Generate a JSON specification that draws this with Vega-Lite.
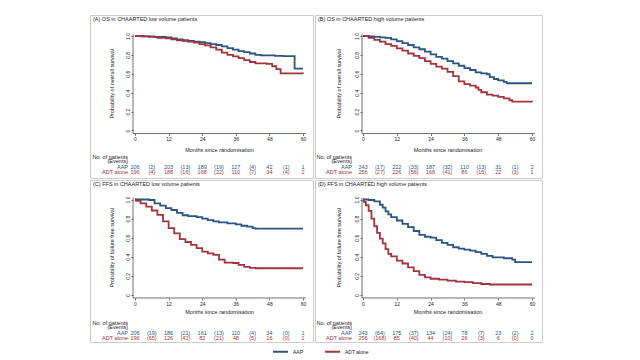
{
"$schema": "https://vega.github.io/schema/vega-lite/v6.json",
"padding": {"left": 89, "top": 14, "right": 0, "bottom": 0},
"background": "white",
"columns": 2,
"spacing": 0,
"align": "each",
"resolve": {"scale": {"x": "independent", "y": "independent", "color": "shared"}},
"datasets": {
"curves": [
{"panel":"A","arm":"AAP","t":0,"s":1},{"panel":"A","arm":"AAP","t":3,"s":0.995},{"panel":"A","arm":"AAP","t":7,"s":0.99},{"panel":"A","arm":"AAP","t":11,"s":0.985},{"panel":"A","arm":"AAP","t":13,"s":0.975},{"panel":"A","arm":"AAP","t":15,"s":0.965},{"panel":"A","arm":"AAP","t":17,"s":0.955},{"panel":"A","arm":"AAP","t":19,"s":0.948},{"panel":"A","arm":"AAP","t":21,"s":0.94},{"panel":"A","arm":"AAP","t":23,"s":0.935},{"panel":"A","arm":"AAP","t":25,"s":0.925},{"panel":"A","arm":"AAP","t":27,"s":0.915},{"panel":"A","arm":"AAP","t":29,"s":0.905},{"panel":"A","arm":"AAP","t":31,"s":0.89},{"panel":"A","arm":"AAP","t":33,"s":0.872},{"panel":"A","arm":"AAP","t":35,"s":0.855},{"panel":"A","arm":"AAP","t":37,"s":0.84},{"panel":"A","arm":"AAP","t":39,"s":0.83},{"panel":"A","arm":"AAP","t":41,"s":0.815},{"panel":"A","arm":"AAP","t":43,"s":0.8},{"panel":"A","arm":"AAP","t":45,"s":0.795},{"panel":"A","arm":"AAP","t":50,"s":0.79},{"panel":"A","arm":"AAP","t":53,"s":0.787},{"panel":"A","arm":"AAP","t":57,"s":0.655},{"panel":"A","arm":"AAP","t":60,"s":0.655},
{"panel":"A","arm":"ADT alone","t":0,"s":1},{"panel":"A","arm":"ADT alone","t":2,"s":0.995},{"panel":"A","arm":"ADT alone","t":5,"s":0.99},{"panel":"A","arm":"ADT alone","t":8,"s":0.98},{"panel":"A","arm":"ADT alone","t":11,"s":0.975},{"panel":"A","arm":"ADT alone","t":13,"s":0.965},{"panel":"A","arm":"ADT alone","t":15,"s":0.955},{"panel":"A","arm":"ADT alone","t":17,"s":0.948},{"panel":"A","arm":"ADT alone","t":19,"s":0.94},{"panel":"A","arm":"ADT alone","t":21,"s":0.93},{"panel":"A","arm":"ADT alone","t":23,"s":0.915},{"panel":"A","arm":"ADT alone","t":25,"s":0.9},{"panel":"A","arm":"ADT alone","t":27,"s":0.88},{"panel":"A","arm":"ADT alone","t":29,"s":0.855},{"panel":"A","arm":"ADT alone","t":31,"s":0.825},{"panel":"A","arm":"ADT alone","t":33,"s":0.8},{"panel":"A","arm":"ADT alone","t":35,"s":0.785},{"panel":"A","arm":"ADT alone","t":37,"s":0.765},{"panel":"A","arm":"ADT alone","t":39,"s":0.745},{"panel":"A","arm":"ADT alone","t":41,"s":0.725},{"panel":"A","arm":"ADT alone","t":43,"s":0.71},{"panel":"A","arm":"ADT alone","t":47,"s":0.705},{"panel":"A","arm":"ADT alone","t":49,"s":0.68},{"panel":"A","arm":"ADT alone","t":50.5,"s":0.65},{"panel":"A","arm":"ADT alone","t":52,"s":0.605},{"panel":"A","arm":"ADT alone","t":60,"s":0.6},
{"panel":"B","arm":"AAP","t":0,"s":1},{"panel":"B","arm":"AAP","t":2,"s":0.995},{"panel":"B","arm":"AAP","t":4,"s":0.99},{"panel":"B","arm":"AAP","t":6,"s":0.985},{"panel":"B","arm":"AAP","t":8,"s":0.98},{"panel":"B","arm":"AAP","t":10,"s":0.965},{"panel":"B","arm":"AAP","t":12,"s":0.945},{"panel":"B","arm":"AAP","t":14,"s":0.925},{"panel":"B","arm":"AAP","t":16,"s":0.905},{"panel":"B","arm":"AAP","t":18,"s":0.88},{"panel":"B","arm":"AAP","t":20,"s":0.86},{"panel":"B","arm":"AAP","t":22,"s":0.835},{"panel":"B","arm":"AAP","t":24,"s":0.805},{"panel":"B","arm":"AAP","t":26,"s":0.78},{"panel":"B","arm":"AAP","t":28,"s":0.76},{"panel":"B","arm":"AAP","t":30,"s":0.735},{"panel":"B","arm":"AAP","t":32,"s":0.71},{"panel":"B","arm":"AAP","t":34,"s":0.685},{"panel":"B","arm":"AAP","t":36,"s":0.66},{"panel":"B","arm":"AAP","t":38,"s":0.64},{"panel":"B","arm":"AAP","t":40,"s":0.615},{"panel":"B","arm":"AAP","t":42,"s":0.605},{"panel":"B","arm":"AAP","t":44,"s":0.595},{"panel":"B","arm":"AAP","t":45,"s":0.565},{"panel":"B","arm":"AAP","t":46.5,"s":0.545},{"panel":"B","arm":"AAP","t":48,"s":0.53},{"panel":"B","arm":"AAP","t":50,"s":0.515},{"panel":"B","arm":"AAP","t":51,"s":0.5},{"panel":"B","arm":"AAP","t":60,"s":0.5},
{"panel":"B","arm":"ADT alone","t":0,"s":1},{"panel":"B","arm":"ADT alone","t":2,"s":0.98},{"panel":"B","arm":"ADT alone","t":4,"s":0.96},{"panel":"B","arm":"ADT alone","t":6,"s":0.94},{"panel":"B","arm":"ADT alone","t":8,"s":0.915},{"panel":"B","arm":"ADT alone","t":10,"s":0.895},{"panel":"B","arm":"ADT alone","t":12,"s":0.87},{"panel":"B","arm":"ADT alone","t":14,"s":0.845},{"panel":"B","arm":"ADT alone","t":16,"s":0.815},{"panel":"B","arm":"ADT alone","t":18,"s":0.79},{"panel":"B","arm":"ADT alone","t":20,"s":0.765},{"panel":"B","arm":"ADT alone","t":22,"s":0.735},{"panel":"B","arm":"ADT alone","t":24,"s":0.705},{"panel":"B","arm":"ADT alone","t":26,"s":0.675},{"panel":"B","arm":"ADT alone","t":28,"s":0.655},{"panel":"B","arm":"ADT alone","t":30,"s":0.62},{"panel":"B","arm":"ADT alone","t":32,"s":0.575},{"panel":"B","arm":"ADT alone","t":34,"s":0.52},{"panel":"B","arm":"ADT alone","t":36,"s":0.49},{"panel":"B","arm":"ADT alone","t":38,"s":0.475},{"panel":"B","arm":"ADT alone","t":40,"s":0.455},{"panel":"B","arm":"ADT alone","t":41,"s":0.43},{"panel":"B","arm":"ADT alone","t":42,"s":0.405},{"panel":"B","arm":"ADT alone","t":44,"s":0.38},{"panel":"B","arm":"ADT alone","t":46,"s":0.37},{"panel":"B","arm":"ADT alone","t":48,"s":0.355},{"panel":"B","arm":"ADT alone","t":50,"s":0.34},{"panel":"B","arm":"ADT alone","t":52,"s":0.32},{"panel":"B","arm":"ADT alone","t":53,"s":0.305},{"panel":"B","arm":"ADT alone","t":60,"s":0.3},
{"panel":"C","arm":"AAP","t":0,"s":1},{"panel":"C","arm":"AAP","t":5,"s":0.995},{"panel":"C","arm":"AAP","t":7,"s":0.96},{"panel":"C","arm":"AAP","t":9,"s":0.935},{"panel":"C","arm":"AAP","t":11,"s":0.91},{"panel":"C","arm":"AAP","t":13,"s":0.89},{"panel":"C","arm":"AAP","t":15,"s":0.86},{"panel":"C","arm":"AAP","t":17,"s":0.835},{"panel":"C","arm":"AAP","t":19,"s":0.825},{"panel":"C","arm":"AAP","t":22,"s":0.815},{"panel":"C","arm":"AAP","t":24,"s":0.8},{"panel":"C","arm":"AAP","t":26,"s":0.785},{"panel":"C","arm":"AAP","t":28,"s":0.77},{"panel":"C","arm":"AAP","t":30,"s":0.76},{"panel":"C","arm":"AAP","t":33,"s":0.75},{"panel":"C","arm":"AAP","t":36,"s":0.74},{"panel":"C","arm":"AAP","t":38,"s":0.725},{"panel":"C","arm":"AAP","t":40,"s":0.715},{"panel":"C","arm":"AAP","t":42,"s":0.7},{"panel":"C","arm":"AAP","t":43,"s":0.695},{"panel":"C","arm":"AAP","t":60,"s":0.695},
{"panel":"C","arm":"ADT alone","t":0,"s":1},{"panel":"C","arm":"ADT alone","t":0.3,"s":0.985},{"panel":"C","arm":"ADT alone","t":2,"s":0.96},{"panel":"C","arm":"ADT alone","t":4,"s":0.925},{"panel":"C","arm":"ADT alone","t":6,"s":0.885},{"panel":"C","arm":"ADT alone","t":8,"s":0.84},{"panel":"C","arm":"ADT alone","t":10,"s":0.77},{"panel":"C","arm":"ADT alone","t":12,"s":0.7},{"panel":"C","arm":"ADT alone","t":14,"s":0.645},{"panel":"C","arm":"ADT alone","t":16,"s":0.585},{"panel":"C","arm":"ADT alone","t":18,"s":0.555},{"panel":"C","arm":"ADT alone","t":20,"s":0.525},{"panel":"C","arm":"ADT alone","t":22,"s":0.49},{"panel":"C","arm":"ADT alone","t":24,"s":0.455},{"panel":"C","arm":"ADT alone","t":26,"s":0.435},{"panel":"C","arm":"ADT alone","t":28,"s":0.42},{"panel":"C","arm":"ADT alone","t":30,"s":0.37},{"panel":"C","arm":"ADT alone","t":32,"s":0.34},{"panel":"C","arm":"ADT alone","t":35,"s":0.335},{"panel":"C","arm":"ADT alone","t":37,"s":0.315},{"panel":"C","arm":"ADT alone","t":39,"s":0.295},{"panel":"C","arm":"ADT alone","t":41,"s":0.285},{"panel":"C","arm":"ADT alone","t":43,"s":0.28},{"panel":"C","arm":"ADT alone","t":60,"s":0.28},
{"panel":"D","arm":"AAP","t":0,"s":1},{"panel":"D","arm":"AAP","t":2,"s":0.995},{"panel":"D","arm":"AAP","t":4,"s":0.98},{"panel":"D","arm":"AAP","t":6,"s":0.945},{"panel":"D","arm":"AAP","t":7,"s":0.915},{"panel":"D","arm":"AAP","t":8,"s":0.875},{"panel":"D","arm":"AAP","t":9,"s":0.845},{"panel":"D","arm":"AAP","t":10,"s":0.815},{"panel":"D","arm":"AAP","t":12,"s":0.78},{"panel":"D","arm":"AAP","t":14,"s":0.745},{"panel":"D","arm":"AAP","t":16,"s":0.71},{"panel":"D","arm":"AAP","t":18,"s":0.67},{"panel":"D","arm":"AAP","t":20,"s":0.63},{"panel":"D","arm":"AAP","t":22,"s":0.61},{"panel":"D","arm":"AAP","t":24,"s":0.6},{"panel":"D","arm":"AAP","t":26,"s":0.575},{"panel":"D","arm":"AAP","t":28,"s":0.545},{"panel":"D","arm":"AAP","t":30,"s":0.525},{"panel":"D","arm":"AAP","t":32,"s":0.5},{"panel":"D","arm":"AAP","t":34,"s":0.485},{"panel":"D","arm":"AAP","t":36,"s":0.475},{"panel":"D","arm":"AAP","t":38,"s":0.465},{"panel":"D","arm":"AAP","t":40,"s":0.45},{"panel":"D","arm":"AAP","t":42,"s":0.43},{"panel":"D","arm":"AAP","t":44,"s":0.41},{"panel":"D","arm":"AAP","t":46,"s":0.395},{"panel":"D","arm":"AAP","t":50,"s":0.385},{"panel":"D","arm":"AAP","t":53,"s":0.37},{"panel":"D","arm":"AAP","t":54,"s":0.345},{"panel":"D","arm":"AAP","t":60,"s":0.345},
{"panel":"D","arm":"ADT alone","t":0,"s":1},{"panel":"D","arm":"ADT alone","t":0.3,"s":0.975},{"panel":"D","arm":"ADT alone","t":1,"s":0.94},{"panel":"D","arm":"ADT alone","t":2,"s":0.88},{"panel":"D","arm":"ADT alone","t":3,"s":0.8},{"panel":"D","arm":"ADT alone","t":4,"s":0.72},{"panel":"D","arm":"ADT alone","t":5,"s":0.65},{"panel":"D","arm":"ADT alone","t":6,"s":0.59},{"panel":"D","arm":"ADT alone","t":7,"s":0.54},{"panel":"D","arm":"ADT alone","t":8,"s":0.48},{"panel":"D","arm":"ADT alone","t":9,"s":0.43},{"panel":"D","arm":"ADT alone","t":10,"s":0.405},{"panel":"D","arm":"ADT alone","t":12,"s":0.36},{"panel":"D","arm":"ADT alone","t":14,"s":0.33},{"panel":"D","arm":"ADT alone","t":16,"s":0.29},{"panel":"D","arm":"ADT alone","t":18,"s":0.25},{"panel":"D","arm":"ADT alone","t":20,"s":0.21},{"panel":"D","arm":"ADT alone","t":22,"s":0.185},{"panel":"D","arm":"ADT alone","t":24,"s":0.17},{"panel":"D","arm":"ADT alone","t":27,"s":0.16},{"panel":"D","arm":"ADT alone","t":30,"s":0.15},{"panel":"D","arm":"ADT alone","t":33,"s":0.14},{"panel":"D","arm":"ADT alone","t":36,"s":0.135},{"panel":"D","arm":"ADT alone","t":39,"s":0.125},{"panel":"D","arm":"ADT alone","t":42,"s":0.115},{"panel":"D","arm":"ADT alone","t":45,"s":0.11},{"panel":"D","arm":"ADT alone","t":60,"s":0.11}
],
"risk": [
{"panel":"A","arm":"AAP","t":0,"label":"206"},{"panel":"A","arm":"AAP","t":6,"label":"(2)"},{"panel":"A","arm":"AAP","t":12,"label":"203"},{"panel":"A","arm":"AAP","t":18,"label":"(13)"},{"panel":"A","arm":"AAP","t":24,"label":"189"},{"panel":"A","arm":"AAP","t":30,"label":"(19)"},{"panel":"A","arm":"AAP","t":36,"label":"127"},{"panel":"A","arm":"AAP","t":42,"label":"(4)"},{"panel":"A","arm":"AAP","t":48,"label":"42"},{"panel":"A","arm":"AAP","t":54,"label":"(1)"},{"panel":"A","arm":"AAP","t":60,"label":"1"},
{"panel":"A","arm":"ADT alone","t":0,"label":"196"},{"panel":"A","arm":"ADT alone","t":6,"label":"(4)"},{"panel":"A","arm":"ADT alone","t":12,"label":"188"},{"panel":"A","arm":"ADT alone","t":18,"label":"(16)"},{"panel":"A","arm":"ADT alone","t":24,"label":"168"},{"panel":"A","arm":"ADT alone","t":30,"label":"(22)"},{"panel":"A","arm":"ADT alone","t":36,"label":"110"},{"panel":"A","arm":"ADT alone","t":42,"label":"(7)"},{"panel":"A","arm":"ADT alone","t":48,"label":"34"},{"panel":"A","arm":"ADT alone","t":54,"label":"(4)"},{"panel":"A","arm":"ADT alone","t":60,"label":"2"},
{"panel":"B","arm":"AAP","t":0,"label":"243"},{"panel":"B","arm":"AAP","t":6,"label":"(17)"},{"panel":"B","arm":"AAP","t":12,"label":"222"},{"panel":"B","arm":"AAP","t":18,"label":"(33)"},{"panel":"B","arm":"AAP","t":24,"label":"187"},{"panel":"B","arm":"AAP","t":30,"label":"(32)"},{"panel":"B","arm":"AAP","t":36,"label":"110"},{"panel":"B","arm":"AAP","t":42,"label":"(13)"},{"panel":"B","arm":"AAP","t":48,"label":"31"},{"panel":"B","arm":"AAP","t":54,"label":"(1)"},{"panel":"B","arm":"AAP","t":60,"label":"2"},
{"panel":"B","arm":"ADT alone","t":0,"label":"256"},{"panel":"B","arm":"ADT alone","t":6,"label":"(27)"},{"panel":"B","arm":"ADT alone","t":12,"label":"226"},{"panel":"B","arm":"ADT alone","t":18,"label":"(56)"},{"panel":"B","arm":"ADT alone","t":24,"label":"166"},{"panel":"B","arm":"ADT alone","t":30,"label":"(41)"},{"panel":"B","arm":"ADT alone","t":36,"label":"86"},{"panel":"B","arm":"ADT alone","t":42,"label":"(15)"},{"panel":"B","arm":"ADT alone","t":48,"label":"22"},{"panel":"B","arm":"ADT alone","t":54,"label":"(3)"},{"panel":"B","arm":"ADT alone","t":60,"label":"1"},
{"panel":"C","arm":"AAP","t":0,"label":"206"},{"panel":"C","arm":"AAP","t":6,"label":"(19)"},{"panel":"C","arm":"AAP","t":12,"label":"186"},{"panel":"C","arm":"AAP","t":18,"label":"(21)"},{"panel":"C","arm":"AAP","t":24,"label":"161"},{"panel":"C","arm":"AAP","t":30,"label":"(13)"},{"panel":"C","arm":"AAP","t":36,"label":"110"},{"panel":"C","arm":"AAP","t":42,"label":"(4)"},{"panel":"C","arm":"AAP","t":48,"label":"34"},{"panel":"C","arm":"AAP","t":54,"label":"(0)"},{"panel":"C","arm":"AAP","t":60,"label":"1"},
{"panel":"C","arm":"ADT alone","t":0,"label":"196"},{"panel":"C","arm":"ADT alone","t":6,"label":"(65)"},{"panel":"C","arm":"ADT alone","t":12,"label":"126"},{"panel":"C","arm":"ADT alone","t":18,"label":"(42)"},{"panel":"C","arm":"ADT alone","t":24,"label":"82"},{"panel":"C","arm":"ADT alone","t":30,"label":"(21)"},{"panel":"C","arm":"ADT alone","t":36,"label":"48"},{"panel":"C","arm":"ADT alone","t":42,"label":"(5)"},{"panel":"C","arm":"ADT alone","t":48,"label":"16"},{"panel":"C","arm":"ADT alone","t":54,"label":"(0)"},{"panel":"C","arm":"ADT alone","t":60,"label":"1"},
{"panel":"D","arm":"AAP","t":0,"label":"243"},{"panel":"D","arm":"AAP","t":6,"label":"(64)"},{"panel":"D","arm":"AAP","t":12,"label":"175"},{"panel":"D","arm":"AAP","t":18,"label":"(37)"},{"panel":"D","arm":"AAP","t":24,"label":"134"},{"panel":"D","arm":"AAP","t":30,"label":"(24)"},{"panel":"D","arm":"AAP","t":36,"label":"78"},{"panel":"D","arm":"AAP","t":42,"label":"(7)"},{"panel":"D","arm":"AAP","t":48,"label":"23"},{"panel":"D","arm":"AAP","t":54,"label":"(2)"},{"panel":"D","arm":"AAP","t":60,"label":"2"},
{"panel":"D","arm":"ADT alone","t":0,"label":"256"},{"panel":"D","arm":"ADT alone","t":6,"label":"(168)"},{"panel":"D","arm":"ADT alone","t":12,"label":"85"},{"panel":"D","arm":"ADT alone","t":18,"label":"(40)"},{"panel":"D","arm":"ADT alone","t":24,"label":"44"},{"panel":"D","arm":"ADT alone","t":30,"label":"(10)"},{"panel":"D","arm":"ADT alone","t":36,"label":"26"},{"panel":"D","arm":"ADT alone","t":42,"label":"(3)"},{"panel":"D","arm":"ADT alone","t":48,"label":"6"},{"panel":"D","arm":"ADT alone","t":54,"label":"(0)"},{"panel":"D","arm":"ADT alone","t":60,"label":"0"}
]
},
"concat": [
{
"width": 223, "height": 163,
"title": {"text": "(A) OS in CHAARTED low volume patients"},
"layer": [
{"data": {"name": "curves"}, "transform": [{"filter": "datum.panel == 'A'"}],
 "mark": {"type": "line", "interpolate": "step-after", "strokeWidth": 1.8},
 "encoding": {
  "x": {"field": "t", "type": "quantitative", "scale": {"domain": [-16.071, 63.571], "nice": false, "zero": false}, "axis": {"values": [0,12,24,36,48,60], "tickCount": 20, "offset": -44.5, "title": "Months since randomisation", "titleX": 129, "titleY": 15.5}},
  "y": {"field": "s", "type": "quantitative", "scale": {"domain": [-0.50265, 1.22222], "nice": false, "zero": false}, "axis": {"values": [0,0.2,0.4,0.6,0.8,1], "tickCount": 20, "offset": -43, "title": "Probability of overall survival", "titleX": -22, "titleY": 68.25, "labelExpr": "datum.value == 0 ? '0' : format(datum.value, '.1f')"}},
  "color": {"field": "arm", "type": "nominal", "title": null, "scale": {"domain": ["AAP", "ADT alone"], "range": ["#2b5584", "#a3343d"]}}
 }},
{"data": {"values": [{}]}, "mark": {"type": "rule", "color": "#333333", "strokeWidth": 0.7}, "encoding": {"x": {"datum": -0.714}, "y": {"datum": -0.032}, "y2": {"datum": 1.02}}},
{"data": {"values": [{}]}, "mark": {"type": "rule", "color": "#333333", "strokeWidth": 0.7}, "encoding": {"x": {"datum": -0.714}, "x2": {"datum": 61}, "y": {"datum": -0.032}}},
{"data": {"values": [{}]}, "mark": {"type": "text", "text": ["No. of patients", "(Events)"], "align": "right", "baseline": "middle", "lineHeight": 4.5, "color": "#222222"}, "encoding": {"x": {"datum": -2.5}, "y": {"datum": -0.2804}}},
{"data": {"values": [{}]}, "mark": {"type": "text", "text": "AAP", "align": "right", "baseline": "middle", "color": "#2b5584"}, "encoding": {"x": {"datum": -2.5}, "y": {"datum": -0.381}}},
{"data": {"values": [{}]}, "mark": {"type": "text", "text": "ADT alone", "align": "right", "baseline": "middle", "color": "#a3343d"}, "encoding": {"x": {"datum": -2.5}, "y": {"datum": -0.434}}},
{"data": {"name": "risk"}, "transform": [{"filter": "datum.panel == 'A' && datum.arm == 'AAP'"}], "mark": {"type": "text", "baseline": "middle", "color": "#2b5584"}, "encoding": {"x": {"field": "t", "type": "quantitative"}, "y": {"datum": -0.381}, "text": {"field": "label"}}},
{"data": {"name": "risk"}, "transform": [{"filter": "datum.panel == 'A' && datum.arm == 'ADT alone'"}], "mark": {"type": "text", "baseline": "middle", "color": "#a3343d"}, "encoding": {"x": {"field": "t", "type": "quantitative"}, "y": {"datum": -0.434}, "text": {"field": "label"}}}
]
},
{
"width": 227, "height": 163,
"title": {"text": "(B) OS in CHAARTED high volume patients"},
"layer": [
{"data": {"name": "curves"}, "transform": [{"filter": "datum.panel == 'B'"}],
 "mark": {"type": "line", "interpolate": "step-after", "strokeWidth": 1.8},
 "encoding": {
  "x": {"field": "t", "type": "quantitative", "scale": {"domain": [-17.041, 63.55], "nice": false, "zero": false}, "axis": {"values": [0,12,24,36,48,60], "tickCount": 20, "offset": -44.5, "title": "Months since randomisation", "titleX": 132.5, "titleY": 15.5}},
  "y": {"field": "s", "type": "quantitative", "scale": {"domain": [-0.50265, 1.22222], "nice": false, "zero": false}, "axis": {"values": [0,0.2,0.4,0.6,0.8,1], "tickCount": 20, "offset": -47, "title": "Probability of overall survival", "titleX": -24, "titleY": 68.25, "labelExpr": "datum.value == 0 ? '0' : format(datum.value, '.1f')"}},
  "color": {"field": "arm", "type": "nominal", "title": null, "scale": {"domain": ["AAP", "ADT alone"], "range": ["#2b5584", "#a3343d"]}}
 }},
{"data": {"values": [{}]}, "mark": {"type": "rule", "color": "#333333", "strokeWidth": 0.7}, "encoding": {"x": {"datum": -0.355}, "y": {"datum": -0.032}, "y2": {"datum": 1.02}}},
{"data": {"values": [{}]}, "mark": {"type": "rule", "color": "#333333", "strokeWidth": 0.7}, "encoding": {"x": {"datum": -0.355}, "x2": {"datum": 61}, "y": {"datum": -0.032}}},
{"data": {"values": [{}]}, "mark": {"type": "text", "text": ["No. of patients", "(Events)"], "align": "right", "baseline": "middle", "lineHeight": 4.5, "color": "#222222"}, "encoding": {"x": {"datum": -3.9}, "y": {"datum": -0.2804}}},
{"data": {"values": [{}]}, "mark": {"type": "text", "text": "AAP", "align": "right", "baseline": "middle", "color": "#2b5584"}, "encoding": {"x": {"datum": -3.9}, "y": {"datum": -0.381}}},
{"data": {"values": [{}]}, "mark": {"type": "text", "text": "ADT alone", "align": "right", "baseline": "middle", "color": "#a3343d"}, "encoding": {"x": {"datum": -3.9}, "y": {"datum": -0.434}}},
{"data": {"name": "risk"}, "transform": [{"filter": "datum.panel == 'B' && datum.arm == 'AAP'"}], "mark": {"type": "text", "baseline": "middle", "color": "#2b5584"}, "encoding": {"x": {"field": "t", "type": "quantitative"}, "y": {"datum": -0.381}, "text": {"field": "label"}}},
{"data": {"name": "risk"}, "transform": [{"filter": "datum.panel == 'B' && datum.arm == 'ADT alone'"}], "mark": {"type": "text", "baseline": "middle", "color": "#a3343d"}, "encoding": {"x": {"field": "t", "type": "quantitative"}, "y": {"datum": -0.434}, "text": {"field": "label"}}}
]
},
{
"width": 223, "height": 162,
"title": {"text": "(C) FFS in CHAARTED low volume patients"},
"layer": [
{"data": {"name": "curves"}, "transform": [{"filter": "datum.panel == 'C'"}],
 "mark": {"type": "line", "interpolate": "step-after", "strokeWidth": 1.8},
 "encoding": {
  "x": {"field": "t", "type": "quantitative", "scale": {"domain": [-16.071, 63.571], "nice": false, "zero": false}, "axis": {"values": [0,12,24,36,48,60], "tickCount": 20, "offset": -44, "title": "Months since randomisation", "titleX": 129, "titleY": 13.5}},
  "y": {"field": "s", "type": "quantitative", "scale": {"domain": [-0.49215, 1.20419], "nice": false, "zero": false}, "axis": {"values": [0,0.2,0.4,0.6,0.8,1], "tickCount": 20, "offset": -43, "title": "Probability of failure free survival", "titleX": -22, "titleY": 67.25, "labelExpr": "datum.value == 0 ? '0' : format(datum.value, '.1f')"}},
  "color": {"field": "arm", "type": "nominal", "title": null, "scale": {"domain": ["AAP", "ADT alone"], "range": ["#2b5584", "#a3343d"]}}
 }},
{"data": {"values": [{}]}, "mark": {"type": "rule", "color": "#333333", "strokeWidth": 0.7}, "encoding": {"x": {"datum": -0.714}, "y": {"datum": -0.031}, "y2": {"datum": 1.02}}},
{"data": {"values": [{}]}, "mark": {"type": "rule", "color": "#333333", "strokeWidth": 0.7}, "encoding": {"x": {"datum": -0.714}, "x2": {"datum": 61}, "y": {"datum": -0.031}}},
{"data": {"values": [{}]}, "mark": {"type": "text", "text": ["No. of patients", "(Events)"], "align": "right", "baseline": "middle", "lineHeight": 4.5, "color": "#222222"}, "encoding": {"x": {"datum": -2.5}, "y": {"datum": -0.293}}},
{"data": {"values": [{}]}, "mark": {"type": "text", "text": "AAP", "align": "right", "baseline": "middle", "color": "#2b5584"}, "encoding": {"x": {"datum": -2.5}, "y": {"datum": -0.398}}},
{"data": {"values": [{}]}, "mark": {"type": "text", "text": "ADT alone", "align": "right", "baseline": "middle", "color": "#a3343d"}, "encoding": {"x": {"datum": -2.5}, "y": {"datum": -0.455}}},
{"data": {"name": "risk"}, "transform": [{"filter": "datum.panel == 'C' && datum.arm == 'AAP'"}], "mark": {"type": "text", "baseline": "middle", "color": "#2b5584"}, "encoding": {"x": {"field": "t", "type": "quantitative"}, "y": {"datum": -0.398}, "text": {"field": "label"}}},
{"data": {"name": "risk"}, "transform": [{"filter": "datum.panel == 'C' && datum.arm == 'ADT alone'"}], "mark": {"type": "text", "baseline": "middle", "color": "#a3343d"}, "encoding": {"x": {"field": "t", "type": "quantitative"}, "y": {"datum": -0.455}, "text": {"field": "label"}}}
]
},
{
"width": 227, "height": 162,
"title": {"text": "(D) FFS in CHAARTED high volume patients"},
"layer": [
{"data": {"name": "curves"}, "transform": [{"filter": "datum.panel == 'D'"}],
 "mark": {"type": "line", "interpolate": "step-after", "strokeWidth": 1.8},
 "encoding": {
  "x": {"field": "t", "type": "quantitative", "scale": {"domain": [-17.041, 63.55], "nice": false, "zero": false}, "axis": {"values": [0,12,24,36,48,60], "tickCount": 20, "offset": -44, "title": "Months since randomisation", "titleX": 132.5, "titleY": 13.5}},
  "y": {"field": "s", "type": "quantitative", "scale": {"domain": [-0.49215, 1.20419], "nice": false, "zero": false}, "axis": {"values": [0,0.2,0.4,0.6,0.8,1], "tickCount": 20, "offset": -47, "title": "Probability of failure free survival", "titleX": -24, "titleY": 67.25, "labelExpr": "datum.value == 0 ? '0' : format(datum.value, '.1f')"}},
  "color": {"field": "arm", "type": "nominal", "title": null, "scale": {"domain": ["AAP", "ADT alone"], "range": ["#2b5584", "#a3343d"]}}
 }},
{"data": {"values": [{}]}, "mark": {"type": "rule", "color": "#333333", "strokeWidth": 0.7}, "encoding": {"x": {"datum": -0.355}, "y": {"datum": -0.031}, "y2": {"datum": 1.02}}},
{"data": {"values": [{}]}, "mark": {"type": "rule", "color": "#333333", "strokeWidth": 0.7}, "encoding": {"x": {"datum": -0.355}, "x2": {"datum": 61}, "y": {"datum": -0.031}}},
{"data": {"values": [{}]}, "mark": {"type": "text", "text": ["No. of patients", "(Events)"], "align": "right", "baseline": "middle", "lineHeight": 4.5, "color": "#222222"}, "encoding": {"x": {"datum": -3.9}, "y": {"datum": -0.293}}},
{"data": {"values": [{}]}, "mark": {"type": "text", "text": "AAP", "align": "right", "baseline": "middle", "color": "#2b5584"}, "encoding": {"x": {"datum": -3.9}, "y": {"datum": -0.398}}},
{"data": {"values": [{}]}, "mark": {"type": "text", "text": "ADT alone", "align": "right", "baseline": "middle", "color": "#a3343d"}, "encoding": {"x": {"datum": -3.9}, "y": {"datum": -0.455}}},
{"data": {"name": "risk"}, "transform": [{"filter": "datum.panel == 'D' && datum.arm == 'AAP'"}], "mark": {"type": "text", "baseline": "middle", "color": "#2b5584"}, "encoding": {"x": {"field": "t", "type": "quantitative"}, "y": {"datum": -0.398}, "text": {"field": "label"}}},
{"data": {"name": "risk"}, "transform": [{"filter": "datum.panel == 'D' && datum.arm == 'ADT alone'"}], "mark": {"type": "text", "baseline": "middle", "color": "#a3343d"}, "encoding": {"x": {"field": "t", "type": "quantitative"}, "y": {"datum": -0.455}, "text": {"field": "label"}}}
]
}
],
"config": {
 "font": "Liberation Sans",
 "view": {"stroke": "#cccccc", "strokeWidth": 1},
 "axis": {"grid": false, "domain": false, "tickSize": 2, "tickColor": "#333333", "tickWidth": 0.7, "labelFontSize": 5, "labelColor": "#222222", "labelPadding": 1, "titleFontSize": 5.5, "titleFontWeight": "normal", "titleColor": "#222222", "labelFlush": false, "labelOverlap": false, "titleAlign": "center", "titleBaseline": "middle"},
 "axisY": {"labelAngle": -90, "labelAlign": "center", "labelBaseline": "bottom"},
 "title": {"anchor": "start", "frame": "group", "fontSize": 5.5, "fontWeight": "normal", "color": "#222222", "dx": 3, "offset": -7, "baseline": "middle"},
 "text": {"fontSize": 5.5, "font": "Liberation Sans"},
 "legend": {"orient": "none", "legendX": 182, "legendY": 328, "direction": "horizontal", "labelFontSize": 5, "labelColor": "#222222", "symbolSize": 225, "symbolStrokeWidth": 2, "columnPadding": 17, "labelOffset": 4}
}
}
